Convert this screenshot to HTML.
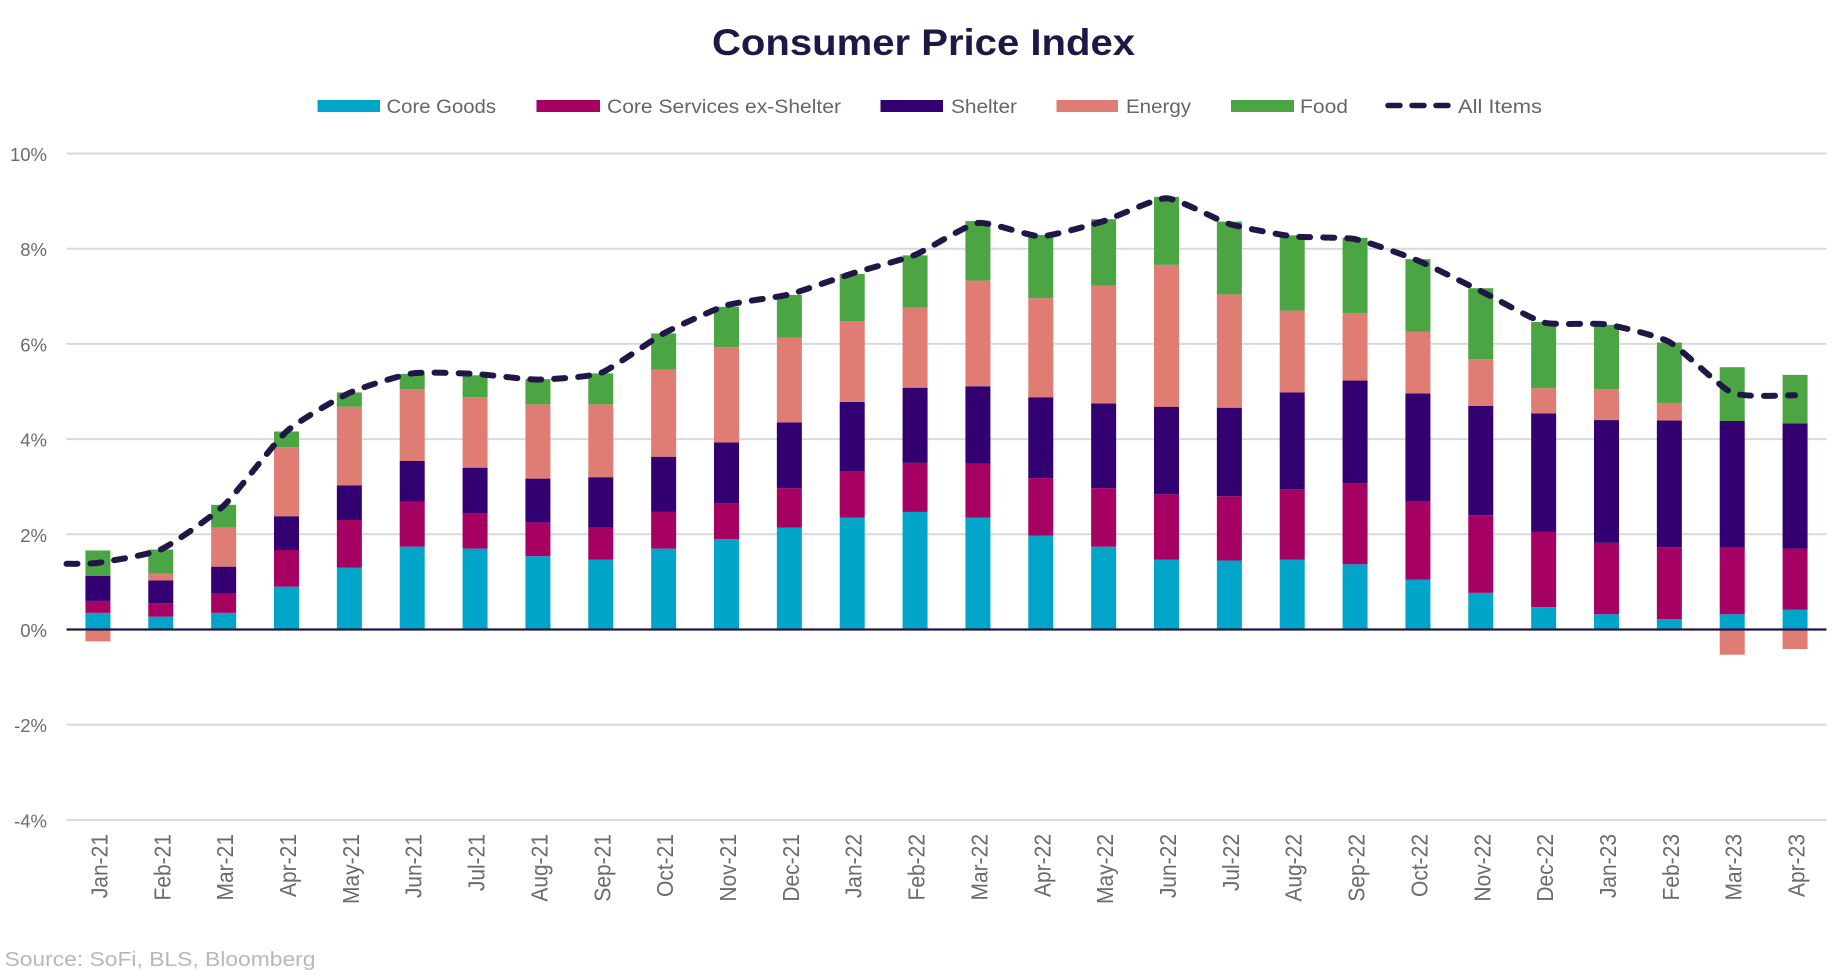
<!DOCTYPE html>
<html lang="en">
<head>
<meta charset="utf-8">
<title>Consumer Price Index</title>
<style>
  html, body { margin: 0; padding: 0; background: #fff; }
  svg { display: block; font-family: "Liberation Sans", sans-serif; }
</style>
</head>
<body>
<svg id="chart" xmlns="http://www.w3.org/2000/svg" width="1844" height="976" viewBox="0 0 1844 976">
  <rect x="0" y="0" width="1844" height="976" fill="#ffffff"/>
  <text x="923.5" y="55" text-anchor="middle" font-size="37" font-weight="700" fill="#201747" textLength="423" lengthAdjust="spacingAndGlyphs">Consumer Price Index</text>

  <g font-size="19.5" fill="#666666">
    <g>
      <rect x="317.5" y="100" width="62.5" height="12" fill="#00A5C9"/>
      <text x="386.5" y="113" textLength="109.5" lengthAdjust="spacingAndGlyphs">Core Goods</text>
    </g>
    <g>
      <rect x="536.5" y="100" width="63.5" height="12" fill="#A50062"/>
      <text x="607" y="113" textLength="234" lengthAdjust="spacingAndGlyphs">Core Services ex-Shelter</text>
    </g>
    <g>
      <rect x="880.5" y="100" width="62.5" height="12" fill="#330072"/>
      <text x="951" y="113" textLength="66" lengthAdjust="spacingAndGlyphs">Shelter</text>
    </g>
    <g>
      <rect x="1056.5" y="100" width="61.5" height="12" fill="#DF7C74"/>
      <text x="1126" y="113" textLength="65" lengthAdjust="spacingAndGlyphs">Energy</text>
    </g>
    <g>
      <rect x="1231" y="100" width="63" height="12" fill="#4BA542"/>
      <text x="1300" y="113" textLength="48" lengthAdjust="spacingAndGlyphs">Food</text>
    </g>
    <g>
      <line x1="1388" y1="105.5" x2="1448" y2="105.5" stroke="#201747" stroke-width="5.5" stroke-linecap="round" stroke-dasharray="12 12"/>
      <text x="1458" y="113" textLength="84" lengthAdjust="spacingAndGlyphs">All Items</text>
    </g>
  </g>

  <g id="grid"></g>
  <g id="y-axis"></g>
  <g id="bars"></g>
  <line id="zero-line" stroke="#201747" stroke-width="2.2"/>
  <path id="all-items-line" fill="none" stroke="#201747" stroke-width="6" stroke-linecap="round" stroke-linejoin="round" stroke-dasharray="11 13"/>
  <g id="x-axis"></g>

  <text x="4.5" y="966" font-size="20" fill="#b8b8b8" textLength="311" lengthAdjust="spacingAndGlyphs">Source: SoFi, BLS, Bloomberg</text>
</svg>

<script>
const months = ["Jan-21","Feb-21","Mar-21","Apr-21","May-21","Jun-21","Jul-21","Aug-21","Sep-21","Oct-21","Nov-21","Dec-21","Jan-22","Feb-22","Mar-22","Apr-22","May-22","Jun-22","Jul-22","Aug-22","Sep-22","Oct-22","Nov-22","Dec-22","Jan-23","Feb-23","Mar-23","Apr-23"];
const coreGoods = [0.35,0.27,0.35,0.90,1.30,1.74,1.70,1.54,1.47,1.70,1.90,2.14,2.35,2.47,2.35,1.97,1.74,1.47,1.45,1.47,1.37,1.05,0.77,0.47,0.32,0.22,0.32,0.42];
const coreServices = [0.25,0.28,0.40,0.77,1.00,0.95,0.74,0.71,0.67,0.77,0.75,0.83,0.98,1.03,1.13,1.21,1.23,1.37,1.35,1.48,1.70,1.65,1.63,1.58,1.50,1.51,1.40,1.28];
const shelter = [0.53,0.48,0.57,0.71,0.73,0.85,0.96,0.92,1.06,1.16,1.28,1.38,1.45,1.58,1.63,1.70,1.78,1.84,1.86,2.03,2.16,2.26,2.30,2.49,2.58,2.66,2.66,2.63];
const energy = [-0.25,0.14,0.82,1.45,1.65,1.51,1.48,1.56,1.53,1.83,2.00,1.78,1.70,1.68,2.22,2.08,2.47,2.98,2.38,1.72,1.42,1.30,0.98,0.53,0.65,0.37,-0.53,-0.41];
const food = [0.53,0.51,0.48,0.33,0.30,0.32,0.46,0.53,0.65,0.76,0.85,0.90,0.99,1.10,1.25,1.33,1.40,1.43,1.53,1.58,1.58,1.52,1.49,1.39,1.35,1.27,1.13,1.02];
const allItems = [1.40,1.68,2.60,4.16,4.97,5.38,5.37,5.25,5.39,6.22,6.81,7.04,7.48,7.87,8.54,8.26,8.58,9.06,8.52,8.26,8.20,7.75,7.11,6.45,6.41,6.04,4.97,4.92];
const allItemsLeadIn = 1.38;
const yTicks = [10,8,6,4,2,0,-2,-4];
const seriesNames = ["core-goods","core-services","shelter","energy","food"];
const seriesColors = ["#00A5C9","#A50062","#330072","#DF7C74","#4BA542"];

const SVG_NS = "http://www.w3.org/2000/svg";
const plotLeft = 66.5, plotRight = 1826.5, yZero = 629.5, pxPerUnit = 47.6, barWidth = 25, smoothDivisor = 11;
const bandWidth = (plotRight - plotLeft) / months.length;
function xScale(i) { return plotLeft + (i + 0.5) * bandWidth; }
function yScale(v) { return yZero - v * pxPerUnit; }
function make(tag) { return document.createElementNS(SVG_NS, tag); }

const gridGroup = document.getElementById("grid");
const yGroup = document.getElementById("y-axis");
yTicks.forEach(function (t) {
  if (t !== 0) {
    const gl = make("line");
    
    
    gl.setAttribute("x1", plotLeft);
    gl.setAttribute("x2", plotRight);
    gl.setAttribute("y1", yScale(t));
    gl.setAttribute("y2", yScale(t));
    gl.setAttribute("stroke", "#d9d9d9");
    gl.setAttribute("stroke-width", "2");
    gridGroup.appendChild(gl);
  }
  const lbl = make("text");
  
  
  lbl.setAttribute("x", 47);
  lbl.setAttribute("y", yScale(t) + 7.5);
  lbl.setAttribute("text-anchor", "end");
  lbl.setAttribute("font-size", "18.5");
  lbl.setAttribute("fill", "#6b6b6b");
  lbl.textContent = t + "%";
  yGroup.appendChild(lbl);
});

const barGroup = document.getElementById("bars");
const allSeries = [coreGoods, coreServices, shelter, energy, food];
months.forEach(function (m, i) {
  let posTop = 0, negBottom = 0;
  allSeries.forEach(function (values, s) {
    const v = values[i];
    let start, end;
    if (v >= 0) { start = posTop; end = posTop + v; posTop = end; }
    else { start = negBottom; end = negBottom + v; negBottom = end; }
    const bar = make("rect");
    
    
    bar.setAttribute("data-series", seriesNames[s]);
    bar.setAttribute("x", xScale(i) - barWidth / 2);
    bar.setAttribute("width", barWidth);
    bar.setAttribute("y", Math.min(yScale(start), yScale(end)));
    bar.setAttribute("height", Math.abs(yScale(end) - yScale(start)));
    bar.setAttribute("fill", seriesColors[s]);
    barGroup.appendChild(bar);
  });
});

const zero = document.getElementById("zero-line");
zero.setAttribute("x1", plotLeft);
zero.setAttribute("x2", plotRight);
zero.setAttribute("y1", yScale(0));
zero.setAttribute("y2", yScale(0));

const linePts = [[xScale(-0.5), yScale(allItemsLeadIn)]].concat(allItems.map(function (v, i) { return [xScale(i), yScale(v)]; }));
let d = "M" + linePts[0][0] + " " + linePts[0][1];
for (let i = 0; i < linePts.length - 1; i++) {
  const p0 = linePts[Math.max(i - 1, 0)], p1 = linePts[i], p2 = linePts[i + 1], p3 = linePts[Math.min(i + 2, linePts.length - 1)];
  const c1x = p1[0] + (p2[0] - p0[0]) / smoothDivisor, c1y = p1[1] + (p2[1] - p0[1]) / smoothDivisor;
  const c2x = p2[0] - (p3[0] - p1[0]) / smoothDivisor, c2y = p2[1] - (p3[1] - p1[1]) / smoothDivisor;
  d += " C" + c1x + " " + c1y + " " + c2x + " " + c2y + " " + p2[0] + " " + p2[1];
}
document.getElementById("all-items-line").setAttribute("d", d);

const xGroup = document.getElementById("x-axis");
months.forEach(function (m, i) {
  const t = make("text");
  
  
  t.setAttribute("text-anchor", "end");
  t.setAttribute("font-size", "21");
  t.setAttribute("fill", "#6b6b6b");
  t.setAttribute("transform", "translate(" + (xScale(i) + 9.5) + " 834) rotate(-90) scale(1 1.12)");
  t.textContent = m;
  xGroup.appendChild(t);
});
</script>
</body>
</html>
